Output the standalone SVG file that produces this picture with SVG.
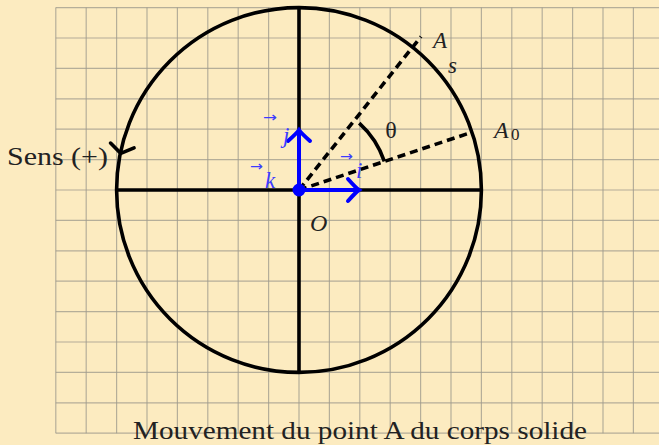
<svg xmlns="http://www.w3.org/2000/svg" width="659" height="445" viewBox="0 0 659 445">
<defs>
<style>
.grid{stroke:#9e9a8c;stroke-opacity:.75;stroke-width:1.2;fill:none}
.thick{stroke:#000;stroke-width:3.6;fill:none}
.dash{stroke:#000;stroke-width:3.6;fill:none;stroke-dasharray:8 5}
.vec{stroke:#0000ff;stroke-width:4;fill:none}
.lbl{font-family:"Liberation Serif","Times New Roman",serif;fill:#222}
.it{font-style:italic}
.blue{font-family:"Liberation Serif","Times New Roman",serif;font-style:italic;fill:#3c3cff;font-size:23px}
.varr{font-family:"DejaVu Sans",sans-serif;fill:#3c3cff;font-size:14px}
</style>
<marker id="toBlue" markerUnits="userSpaceOnUse" viewBox="-14 -14 16 28" refX="0" refY="0" markerWidth="16" markerHeight="28" orient="auto" overflow="visible">
<path d="M-11,-11 Q-3,-2 0,0 Q-3,2 -11,11" stroke="#0000ff" stroke-width="4" fill="none" stroke-linecap="round"/>
</marker>
</defs>
<rect x="0" y="0" width="659" height="445" fill="#fcebc0"/>
<g id="grid" class="grid">
<path d="M55.8,7.6V433.2M86.2,7.6V433.2M116.6,7.6V433.2M147,7.6V433.2M177.4,7.6V433.2M207.8,7.6V433.2M238.2,7.6V433.2M268.6,7.6V433.2M299,7.6V433.2M329.4,7.6V433.2M359.8,7.6V433.2M390.2,7.6V433.2M420.6,7.6V433.2M451,7.6V433.2M481.4,7.6V433.2M511.8,7.6V433.2M542.2,7.6V433.2M572.6,7.6V433.2M603,7.6V433.2M633.4,7.6V433.2"/>
<path d="M55.8,7.6H659M55.8,38H659M55.8,68.4H659M55.8,98.8H659M55.8,129.2H659M55.8,159.6H659M55.8,190H659M55.8,220.4H659M55.8,250.8H659M55.8,281.2H659M55.8,311.6H659M55.8,342H659M55.8,372.4H659M55.8,402.8H659M55.8,433.2H659"/>
</g>
<g id="trajectory">
<circle class="thick" cx="299" cy="190" r="182.4"/>
<path d="M-8,-12 Q-2,-3 0,0 Q-2,3 -8,12" transform="translate(120.7,153.3) rotate(101.5)" stroke="#000" stroke-width="3.6" fill="none" stroke-linecap="round"/>
</g>
<g id="connectors">
<path class="thick" d="M116.6,190H481.4M299,7.6V372.4"/>
<path class="dash" d="M299,190L421,36.6"/>
<path class="dash" d="M299,190L471.6,132.3"/>
<path class="thick" d="M384.35,161.44A90,90 0 0 0 359.2,123.1"/>
<path class="vec" d="M299,190H359" marker-end="url(#toBlue)"/>
<path class="vec" d="M299,190V130" marker-end="url(#toBlue)"/>
</g>
<g id="O">
<circle cx="299" cy="190" r="5.5" fill="#0000ff" stroke="#0000ff" stroke-width="2"/>
<text class="lbl it" x="310" y="231" font-size="24">O</text>
</g>
<g id="A">
<text class="lbl it" x="433" y="48" font-size="23">A</text>
<text class="lbl it" x="448" y="73" font-size="23">s</text>
</g>
<g id="A0">
<text class="lbl it" x="494" y="138" font-size="24">A</text>
<text class="lbl" x="511" y="140" font-size="17">0</text>
</g>
<g id="theta">
<text class="lbl" x="391" y="138" font-size="24" text-anchor="middle">θ</text>
</g>
<g id="vec-i">
<text class="varr" x="340" y="161" textLength="13" lengthAdjust="spacingAndGlyphs">→</text>
<text class="blue" x="356" y="178">i</text>
</g>
<g id="vec-j">
<text class="varr" x="263" y="122" textLength="14" lengthAdjust="spacingAndGlyphs">→</text>
<text class="blue" x="283" y="143">j</text>
</g>
<g id="vec-k">
<text class="varr" x="250" y="171" textLength="13" lengthAdjust="spacingAndGlyphs">→</text>
<text class="blue" x="265" y="188">k</text>
</g>
<g id="sens">
<text class="lbl" x="7" y="165" font-size="26" textLength="101" lengthAdjust="spacingAndGlyphs">Sens (+)</text>
</g>
<g id="caption">
<text class="lbl" x="133" y="439" font-size="25" textLength="454" lengthAdjust="spacingAndGlyphs">Mouvement du point A du corps solide</text>
</g>
</svg>
